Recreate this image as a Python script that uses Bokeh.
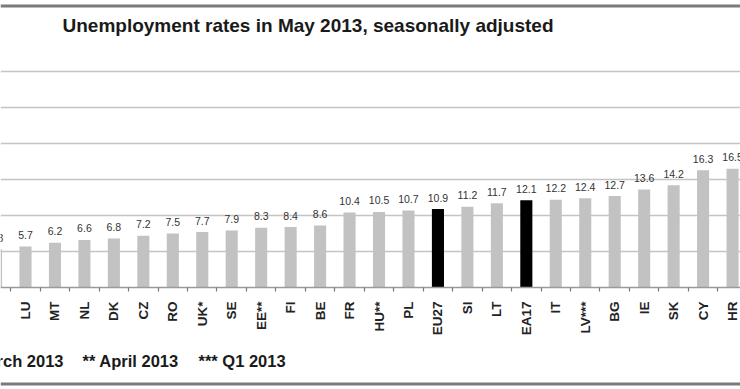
import math
from bokeh.plotting import figure
from bokeh.models import FixedTicker, Label, Span, ColumnDataSource, Range1d
from bokeh.core.properties import value
from bokeh.embed import file_html
from bokeh.resources import INLINE

# ---- data ----
countries = ["DE", "LU", "MT", "NL", "DK", "CZ", "RO", "UK*", "SE", "EE**", "FI", "BE",
             "FR", "HU**", "PL", "EU27", "SI", "LT", "EA17", "IT", "LV***", "BG", "IE",
             "SK", "CY", "HR"]
rates = [5.3, 5.7, 6.2, 6.6, 6.8, 7.2, 7.5, 7.7, 7.9, 8.3, 8.4, 8.6,
         10.4, 10.5, 10.7, 10.9, 11.2, 11.7, 12.1, 12.2, 12.4, 12.7, 13.6,
         14.2, 16.3, 16.5]
aggregates = ["EU27", "EA17"]
grid_ticks = [5, 10, 15, 20, 25, 30]
title_text = "Unemployment rates in May 2013, seasonally adjusted"
footnotes = ["* March 2013", "** April 2013", "*** Q1 2013"]

FONT = "Liberation Sans"
GRAY = "#c2c2c2"
BLACK = "#000000"

xs = list(range(len(countries)))
colors = [BLACK if c in aggregates else GRAY for c in countries]
labels = [f"{v:.1f}" for v in rates]
src = ColumnDataSource(dict(x=xs, rate=rates, color=colors, label=labels))

W, H = 740, 389
p = figure(width=W, height=H, output_backend="svg", toolbar_location=None,
           x_range=Range1d(0.1514, 25.27), y_range=Range1d(-14.17, 39.86),
           min_border_left=0, min_border_right=0, min_border_top=0,
           min_border_bottom=0)
p.outline_line_color = None
p.background_fill_color = "white"
p.border_fill_color = "white"

p.yaxis.visible = False
p.xgrid.visible = False
p.ygrid.ticker = FixedTicker(ticks=grid_ticks)
p.ygrid.grid_line_color = "#c4c4c4"
p.ygrid.grid_line_width = 1.6

p.vbar(x="x", top="rate", width=0.41, fill_color="color", line_color=None, source=src)
p.text(x="x", y="rate", text="label", source=src, text_align="center",
       text_baseline="alphabetic", y_offset=-11.5, text_font_size="10.5px",
       text_color="#333333", text_font=value(FONT))

ax = p.xaxis[0]
ax.fixed_location = 0
ax.ticker = FixedTicker(ticks=xs, minor_ticks=[i + 0.5 for i in range(-1, len(xs))])
ax.major_label_overrides = {i: c for i, c in enumerate(countries)}
ax.major_tick_out = 0
ax.major_tick_in = 0
ax.minor_tick_out = 4
ax.minor_tick_in = 0
ax.minor_tick_line_color = "#7a7a7a"
ax.minor_tick_line_width = 1.2
ax.axis_line_color = "#9a9a9a"
ax.axis_line_width = 1.5
ax.major_label_orientation = math.pi / 2
ax.major_label_standoff = 10
ax.major_label_text_font = FONT
ax.major_label_text_font_style = "bold"
ax.major_label_text_font_size = "13.5px"
ax.major_label_text_color = "#222222"

# title (screen units relative to frame bottom-left)
p.add_layout(Label(x=62, y=364, x_units="screen", y_units="screen", text=title_text,
                   text_font=FONT, text_font_style="bold", text_font_size="19px",
                   text_color="#1a1a1a", text_baseline="middle"))

# footnotes
note_style = dict(x_units="screen", y_units="screen", text_font=FONT,
                  text_font_style="bold", text_font_size="16.5px",
                  text_color="#1a1a1a", text_baseline="alphabetic")
p.add_layout(Label(x=63, y=29, text=footnotes[0], text_align="right", **note_style))
p.add_layout(Label(x=82, y=29, text=footnotes[1], **note_style))
p.add_layout(Label(x=198, y=29, text=footnotes[2], **note_style))

# frame border lines (top and bottom of the chart box)
p.add_layout(Span(location=39.1, dimension="width", line_color="#7a7a7a", line_width=3))
p.add_layout(Span(location=-13.4, dimension="width", line_color="#7a7a7a", line_width=3))

open("out.html", "w").write(file_html(p, INLINE))
